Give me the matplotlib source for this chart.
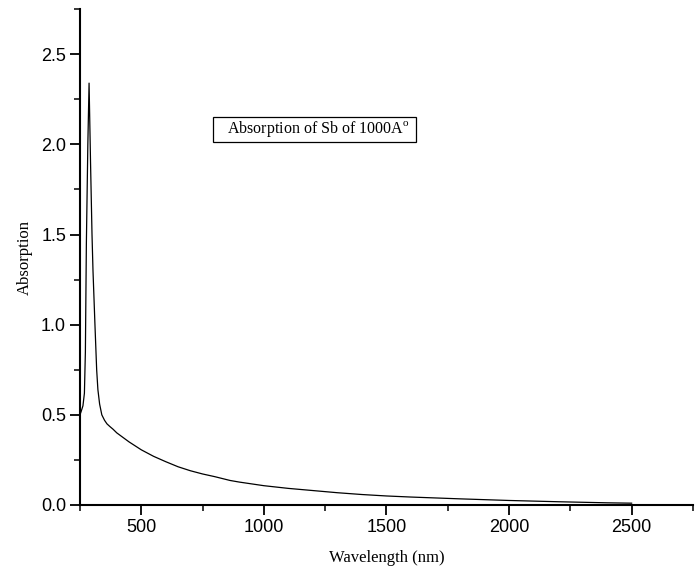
import numpy as np
import matplotlib
matplotlib.use("Agg")
import matplotlib.pyplot as plt
from matplotlib.ticker import MultipleLocator
from matplotlib.patches import Rectangle

plt.rcParams["mathtext.fontset"] = "custom"
plt.rcParams["mathtext.rm"] = "Liberation Serif"

# 파장 / 흡광도 값
wavelength = [250, 255, 262, 268, 272, 276, 282, 287, 293, 299, 303, 311, 318,
              323, 330, 339, 350, 360, 372, 385, 400, 425, 450, 500, 550, 600,
              650, 700, 750, 800, 862, 900, 1000, 1100, 1200, 1300, 1400, 1500,
              1600, 1800, 2000, 2200, 2400, 2500]
absorption = [0.50, 0.52, 0.55, 0.62, 0.85, 1.45, 2.00, 2.34, 1.90, 1.50, 1.30,
              1.00, 0.75, 0.64, 0.56, 0.50, 0.47, 0.45, 0.435, 0.42, 0.40, 0.375,
              0.35, 0.306, 0.27, 0.24, 0.212, 0.19, 0.172, 0.157, 0.136, 0.127,
              0.107, 0.092, 0.08, 0.068, 0.058, 0.05, 0.044, 0.034, 0.025,
              0.018, 0.012, 0.01]
legend_text = r"Absorption of Sb of 1000A$^{\mathrm{o}}$"

fig = plt.figure(figsize=(6.95, 5.76), dpi=100)
ax = fig.add_axes([0.1151, 0.1233, 0.8819, 0.8607])

ax.plot(wavelength, absorption, color="black", linewidth=0.9)

ax.set_xlim(250, 2750)
ax.set_ylim(0, 2.75)
ax.xaxis.set_major_locator(MultipleLocator(500))
ax.xaxis.set_minor_locator(MultipleLocator(250))
ax.yaxis.set_major_locator(MultipleLocator(0.5))
ax.yaxis.set_minor_locator(MultipleLocator(0.25))
ax.set_yticks([0.0, 0.5, 1.0, 1.5, 2.0, 2.5])
ax.set_yticklabels(["0.0", "0.5", "1.0", "1.5", "2.0", "2.5"])

for s in ["top", "right"]:
    ax.spines[s].set_visible(False)
for s in ["left", "bottom"]:
    ax.spines[s].set_linewidth(1.5)

ax.tick_params(which="major", direction="out", length=7, width=1.3,
               labelsize=13, pad=3)
ax.tick_params(which="minor", direction="out", length=4, width=1.1)
for lbl in ax.get_xticklabels() + ax.get_yticklabels():
    lbl.set_fontfamily("Liberation Sans")

ax.set_xlabel("Wavelength (nm)", fontfamily="Liberation Serif", fontsize=12,
              labelpad=10)
ax.set_ylabel("Absorption", fontfamily="Liberation Serif", fontsize=12,
              labelpad=6)

# 범례 상자
ax.add_patch(Rectangle((0.217, 0.732), 0.331, 0.0504, transform=ax.transAxes,
                       facecolor="white", edgecolor="black", linewidth=0.9))
ax.text(0.240, 0.7575, legend_text, transform=ax.transAxes,
        fontfamily="Liberation Serif", fontsize=11.5, va="center", ha="left")

fig.savefig("out.png", dpi=100)
